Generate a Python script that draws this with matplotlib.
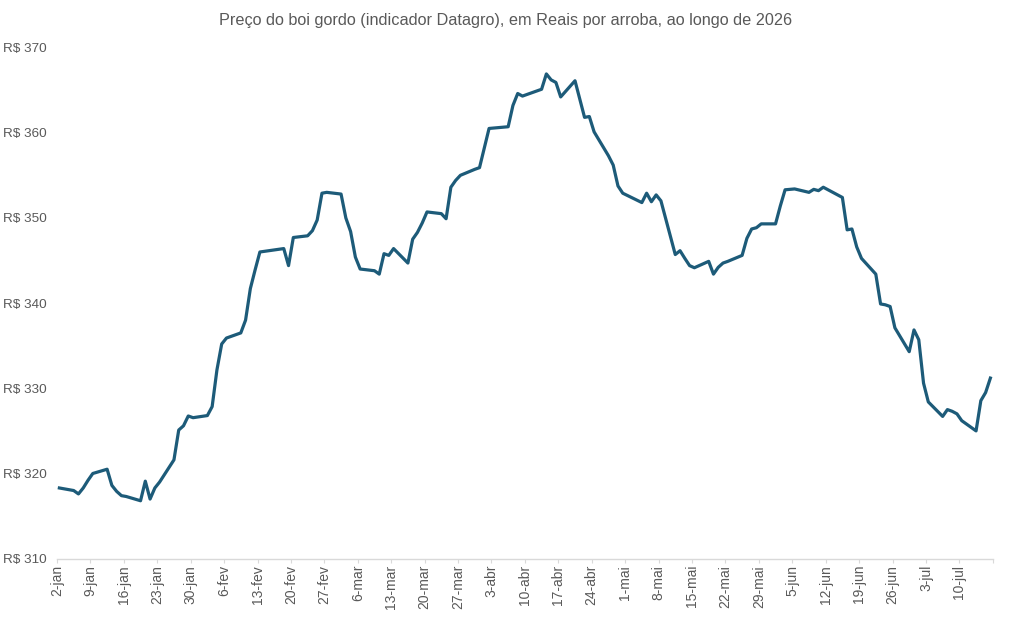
import matplotlib
matplotlib.use('Agg')
import matplotlib.pyplot as plt
import pandas as pd

plt.rcParams['font.family'] = ['Liberation Sans', 'DejaVu Sans']

datas = ['2026-01-02', '2026-01-05', '2026-01-06', '2026-01-07', '2026-01-08', '2026-01-09',
         '2026-01-12', '2026-01-13', '2026-01-14', '2026-01-15', '2026-01-16', '2026-01-19',
         '2026-01-20', '2026-01-21', '2026-01-22', '2026-01-23', '2026-01-26', '2026-01-27',
         '2026-01-28', '2026-01-29', '2026-01-30', '2026-02-02', '2026-02-03', '2026-02-04',
         '2026-02-05', '2026-02-06', '2026-02-09', '2026-02-10', '2026-02-11', '2026-02-12',
         '2026-02-13', '2026-02-18', '2026-02-19', '2026-02-20', '2026-02-23', '2026-02-24',
         '2026-02-25', '2026-02-26', '2026-02-27', '2026-03-02', '2026-03-03', '2026-03-04',
         '2026-03-05', '2026-03-06', '2026-03-09', '2026-03-10', '2026-03-11', '2026-03-12',
         '2026-03-13', '2026-03-16', '2026-03-17', '2026-03-18', '2026-03-19', '2026-03-20',
         '2026-03-23', '2026-03-24', '2026-03-25', '2026-03-26', '2026-03-27', '2026-03-30',
         '2026-03-31', '2026-04-01', '2026-04-02', '2026-04-06', '2026-04-07', '2026-04-08',
         '2026-04-09', '2026-04-10', '2026-04-13', '2026-04-14', '2026-04-15', '2026-04-16',
         '2026-04-17', '2026-04-20', '2026-04-22', '2026-04-23', '2026-04-24', '2026-04-27',
         '2026-04-28', '2026-04-29', '2026-04-30', '2026-05-04', '2026-05-05', '2026-05-06',
         '2026-05-07', '2026-05-08', '2026-05-11', '2026-05-12', '2026-05-13', '2026-05-14',
         '2026-05-15', '2026-05-18', '2026-05-19', '2026-05-20', '2026-05-21', '2026-05-22',
         '2026-05-25', '2026-05-26', '2026-05-27', '2026-05-28', '2026-05-29', '2026-06-01',
         '2026-06-02', '2026-06-03', '2026-06-05', '2026-06-08', '2026-06-09', '2026-06-10',
         '2026-06-11', '2026-06-12', '2026-06-15', '2026-06-16', '2026-06-17', '2026-06-18',
         '2026-06-19', '2026-06-22', '2026-06-23', '2026-06-24', '2026-06-25', '2026-06-26',
         '2026-06-29', '2026-06-30', '2026-07-01', '2026-07-02', '2026-07-03', '2026-07-06',
         '2026-07-07', '2026-07-08', '2026-07-09', '2026-07-10', '2026-07-13', '2026-07-14',
         '2026-07-15', '2026-07-16']
precos = [318.3, 318.0, 317.6, 318.3, 319.2, 320.0,
          320.5, 318.6, 317.9, 317.4, 317.3, 316.8,
          319.1, 317.0, 318.3, 319.0, 321.6, 325.1,
          325.6, 326.75, 326.55, 326.8, 327.85, 332.15,
          335.2, 335.9, 336.5, 338.0, 341.7, 343.9,
          346.0, 346.4, 344.4, 347.7, 347.9, 348.5,
          349.75, 352.9, 353.0, 352.8, 350.0, 348.4,
          345.4, 344.0, 343.8, 343.4, 345.8, 345.6,
          346.4, 344.7, 347.5, 348.3, 349.4, 350.7,
          350.5, 349.9, 353.6, 354.4, 355.0, 355.7,
          355.9, 358.2, 360.5, 360.7, 363.2, 364.6,
          364.3, 364.5, 365.1, 366.9, 366.2, 365.9,
          364.2, 366.1, 361.8, 361.9, 360.1, 357.3,
          356.2, 353.75, 352.9, 351.8, 352.9, 351.9,
          352.7, 352.0, 345.7, 346.15, 345.25, 344.4,
          344.15, 344.9, 343.4, 344.2, 344.7, 344.9,
          345.6, 347.6, 348.7, 348.85, 349.3, 349.3,
          351.4, 353.3, 353.4, 353.0, 353.35, 353.2,
          353.6, 353.3, 352.4, 348.6, 348.7, 346.6,
          345.25, 343.4, 339.9, 339.8, 339.6, 337.1,
          334.3, 336.85, 335.7, 330.6, 328.4, 326.7,
          327.5, 327.3, 327.0, 326.2, 325.0, 328.55,
          329.5, 331.2]

rotulos_x = ['2-jan', '9-jan', '16-jan', '23-jan', '30-jan', '6-fev', '13-fev', '20-fev',
             '27-fev', '6-mar', '13-mar', '20-mar', '27-mar', '3-abr', '10-abr', '17-abr',
             '24-abr', '1-mai', '8-mai', '15-mai', '22-mai', '29-mai', '5-jun', '12-jun',
             '19-jun', '26-jun', '3-jul', '10-jul', '']
valores_y = [310, 320, 330, 340, 350, 360, 370]
rotulos_y = ['R$ 310', 'R$ 320', 'R$ 330', 'R$ 340', 'R$ 350', 'R$ 360', 'R$ 370']

cinza = '#595959'

# no eixo de datas do Excel cada ponto fica no meio do dia
x = pd.to_datetime(datas) + pd.Timedelta(hours=12)
ticks = pd.date_range('2026-01-02', '2026-07-17', freq='7D')

fig = plt.figure(figsize=(10.12, 6.31), dpi=100)
ax = fig.add_axes([0.0563, 0.1146, 0.9247, 0.8101])

ax.plot(x, precos, color='#1d5b79', linewidth=2.3, solid_joinstyle='round')

ax.set_xlim(pd.Timestamp('2026-01-02'), pd.Timestamp('2026-07-17'))
ax.set_ylim(310, 370)
ax.set_xticks(ticks)
ax.set_xticklabels(rotulos_x, rotation=90, fontsize=10, color=cinza)
ax.set_yticks(valores_y)
ax.set_yticklabels(rotulos_y, fontsize=9.7, color=cinza, ha='left')

# pad em pontos: 54 px -> ~39 pt
ax.tick_params(axis='x', length=3, color='#d9d9d9', pad=1.5)
ax.tick_params(axis='y', length=0, pad=39)
for lado in ['top', 'right', 'left']:
    ax.spines[lado].set_visible(False)
ax.spines['bottom'].set_color('#d9d9d9')
ax.spines['bottom'].set_linewidth(1)

fig.text(0.5, 0.967, 'Preço do boi gordo (indicador Datagro), em Reais por arroba, ao longo de 2026',
         ha='center', va='center', fontsize=11.7, color=cinza)

fig.savefig('out.png', dpi=100)
